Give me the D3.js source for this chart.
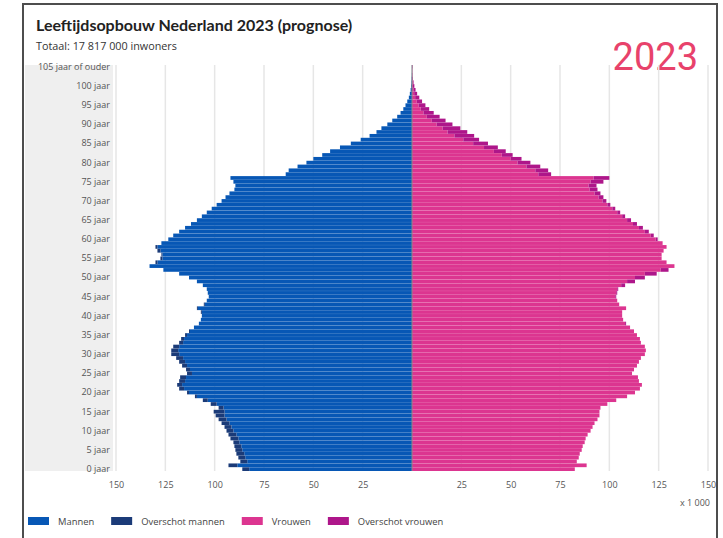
<!DOCTYPE html>
<html>
<head>
<meta charset="utf-8">
<script src="https://cdn.jsdelivr.net/npm/d3@7"></script>
<style>
  body { margin: 0; background: #fff; }
  svg { display: block; font-family: 'Open Sans', sans-serif; }
</style>
</head>
<body>
<div id="chart"></div>
<script>
'use strict'

// inwoners per leeftijd (x 1 000), index = leeftijd, laatste = 105 jaar of ouder
const men = [
  86, 93, 87, 88, 89, 89.5, 90, 90.5, 92, 93,
  94, 95, 96.5, 98, 99.5, 100.5, 98, 102, 106, 110,
  114, 118, 119, 118, 117.5, 114, 114.5, 116.5, 118, 119.5,
  122, 122, 121, 118, 117, 115, 113, 110.5, 108, 107,
  106.5, 107, 109, 105.5, 104, 103, 103.5, 104, 106, 109,
  113, 118, 126, 133, 130, 127.5, 127, 129, 130, 127,
  123.5, 121, 118, 115, 112, 109, 106.5, 104, 101.5, 99,
  96.5, 94.5, 92.5, 90, 89.5, 90.5, 92, 64, 62.5, 58,
  53.5, 50, 45.5, 41.5, 36.5, 31, 26, 21.5, 18, 15.5,
  12.5, 10, 7.5, 5.8, 4.4, 3.3, 2.4, 1.6, 1.1, 0.7,
  0.45, 0.3, 0.2, 0.1, 0.05, 0.05
]

const women = [
  82.5, 88.5, 83.5, 84.5, 85, 86, 86.5, 87.5, 88, 89,
  90.5, 91.5, 92.5, 94, 95, 95, 95.5, 99, 103.5, 109,
  113, 115.5, 116.5, 115, 114.5, 111.5, 112.5, 114, 115, 116,
  118, 118.5, 118, 116, 115.5, 114, 112.5, 110.5, 108.5, 107,
  106.5, 106.5, 108.5, 105, 104, 103.5, 104, 104.5, 108, 113,
  118, 124, 130, 133, 129, 126.5, 126.5, 127.5, 129, 127,
  124.5, 122.5, 120, 117, 114, 111, 108, 105.5, 103, 100.5,
  98.5, 97, 95.5, 94, 93.5, 97, 100, 70.5, 69, 65,
  60, 55.5, 51, 47.5, 43.5, 38.5, 34, 31.5, 28, 24.5,
  20.5, 17, 14, 11, 8.7, 6.8, 5.1, 3.7, 2.6, 1.8,
  1.2, 0.8, 0.5, 0.3, 0.2, 0.3
]

const ageTicks = [0, 5, 10, 15, 20, 25, 30, 35, 40, 45, 50, 55, 60, 65, 70, 75, 80, 85, 90, 95, 100, 105]
const ageTickLabels = ['0 jaar', '5 jaar', '10 jaar', '15 jaar', '20 jaar', '25 jaar', '30 jaar', '35 jaar',
  '40 jaar', '45 jaar', '50 jaar', '55 jaar', '60 jaar', '65 jaar', '70 jaar', '75 jaar', '80 jaar',
  '85 jaar', '90 jaar', '95 jaar', '100 jaar', '105 jaar of ouder']
const valueTicks = [-150, -125, -100, -75, -50, -25, 25, 50, 75, 100, 125, 150]

const legendLabels = ['Mannen', 'Overschot mannen', 'Vrouwen', 'Overschot vrouwen']
const legendColors = ['#0757b5', '#1b3b78', '#dc3590', '#ae168a']

const width = 723
const height = 538
const plotTop = 65
const plotBottom = 471

const svg = d3.select('#chart')
  .append('svg')
    .attr('width', width)
    .attr('height', height)

// kader
svg.append('rect')
  .attr('x', 23)
  .attr('y', 4)
  .attr('width', 694)
  .attr('height', 600)
  .attr('fill', 'none')
  .attr('stroke', '#4d4d4d')
  .attr('stroke-width', 2)

svg.append('text')
  .attr('x', 36)
  .attr('y', 31)
  .attr('font-family', 'Lato, sans-serif')
  .attr('font-weight', 700)
  .attr('font-size', 16)
  .attr('fill', '#222')
  .text('Leeftijdsopbouw Nederland 2023 (prognose)')

svg.append('text')
  .attr('x', 36)
  .attr('y', 50)
  .attr('font-size', 10.8)
  .attr('fill', '#333')
  .text('Totaal: 17 817 000 inwoners')

svg.append('text')
  .attr('x', 698)
  .attr('y', 70)
  .attr('text-anchor', 'end')
  .attr('font-family', 'Roboto, sans-serif')
  .attr('font-size', 38)
  .attr('fill', '#e8426b')
  .text('2023')

const ages = d3.range(men.length)
const rows = ages.map(a => ({age: a, m: men[a], f: women[a]}))

const x = d3.scaleLinear()
  .domain([-150, 150])
  .range([116, 708])

const y = d3.scaleBand()
  .domain(ages)
  .range([plotBottom, plotTop])
  .paddingInner(0.03)

// grijze kolom achter de leeftijden
svg.append('rect')
  .attr('x', 25)
  .attr('y', plotTop)
  .attr('width', 88)
  .attr('height', plotBottom - plotTop)
  .attr('fill', '#efefef')

svg.append('g')
  .selectAll('line')
  .data(valueTicks)
  .join('line')
    .attr('x1', d => x(d))
    .attr('x2', d => x(d))
    .attr('y1', plotTop)
    .attr('y2', plotBottom)
    .attr('stroke', '#e6e6e6')
    .attr('stroke-width', 1.5)

const bars = svg.append('g')

bars.selectAll('.men')
  .data(rows)
  .join('rect')
    .attr('x', d => x(-Math.min(d.m, d.f)))
    .attr('y', d => y(d.age))
    .attr('width', d => x(0) - x(-Math.min(d.m, d.f)))
    .attr('height', y.bandwidth())
    .attr('fill', legendColors[0])

bars.selectAll('.men-excess')
  .data(rows.filter(d => d.m > d.f))
  .join('rect')
    .attr('x', d => x(-d.m))
    .attr('y', d => y(d.age))
    .attr('width', d => x(-d.f) - x(-d.m))
    .attr('height', y.bandwidth())
    .attr('fill', legendColors[1])

bars.selectAll('.women')
  .data(rows)
  .join('rect')
    .attr('x', x(0))
    .attr('y', d => y(d.age))
    .attr('width', d => x(Math.min(d.m, d.f)) - x(0))
    .attr('height', y.bandwidth())
    .attr('fill', legendColors[2])

bars.selectAll('.women-excess')
  .data(rows.filter(d => d.f > d.m))
  .join('rect')
    .attr('x', d => x(d.m))
    .attr('y', d => y(d.age))
    .attr('width', d => x(d.f) - x(d.m))
    .attr('height', y.bandwidth())
    .attr('fill', legendColors[3])

svg.append('line')
  .attr('x1', x(0))
  .attr('x2', x(0))
  .attr('y1', plotTop)
  .attr('y2', plotBottom)
  .attr('stroke', '#888')
  .attr('stroke-width', 1)

const plainAxis = (axis, g) => {
  g.call(axis)
  g.select('.domain').remove()
  g.selectAll('text')
    .attr('fill', '#555')
    .attr('font-family', "'Open Sans', sans-serif")
}

const yAxis = d3.axisLeft(y)
  .tickValues(ageTicks)
  .tickFormat((d, i) => ageTickLabels[i])
  .tickSize(0)
  .tickPadding(3)

svg.append('g')
  .attr('transform', 'translate(113,0)')
  .call(plainAxis.bind(null, yAxis))
  .attr('font-size', 9)

const xAxis = d3.axisBottom(x)
  .tickValues(valueTicks)
  .tickFormat(d => Math.abs(d))
  .tickSize(0)
  .tickPadding(11)

svg.append('g')
  .attr('transform', `translate(0,${plotBottom})`)
  .call(plainAxis.bind(null, xAxis))
  .attr('font-size', 9)

svg.append('text')
  .attr('x', 710)
  .attr('y', 506)
  .attr('text-anchor', 'end')
  .attr('font-size', 9)
  .attr('fill', '#555')
  .text('x 1 000')

const legend = svg.append('g')
  .attr('transform', 'translate(28,517)')

let lx = 0
legendLabels.forEach((label, i) => {
  const item = legend.append('g')
    .attr('transform', `translate(${lx},0)`)
  item.append('rect')
    .attr('width', 21)
    .attr('height', 8)
    .attr('fill', legendColors[i])
  const t = item.append('text')
    .attr('x', 30)
    .attr('y', 7.5)
    .attr('font-size', 9.4)
    .attr('fill', '#444')
    .text(label)
  lx += 30 + t.node().getComputedTextLength() + 17
})
</script>
</body>
</html>
